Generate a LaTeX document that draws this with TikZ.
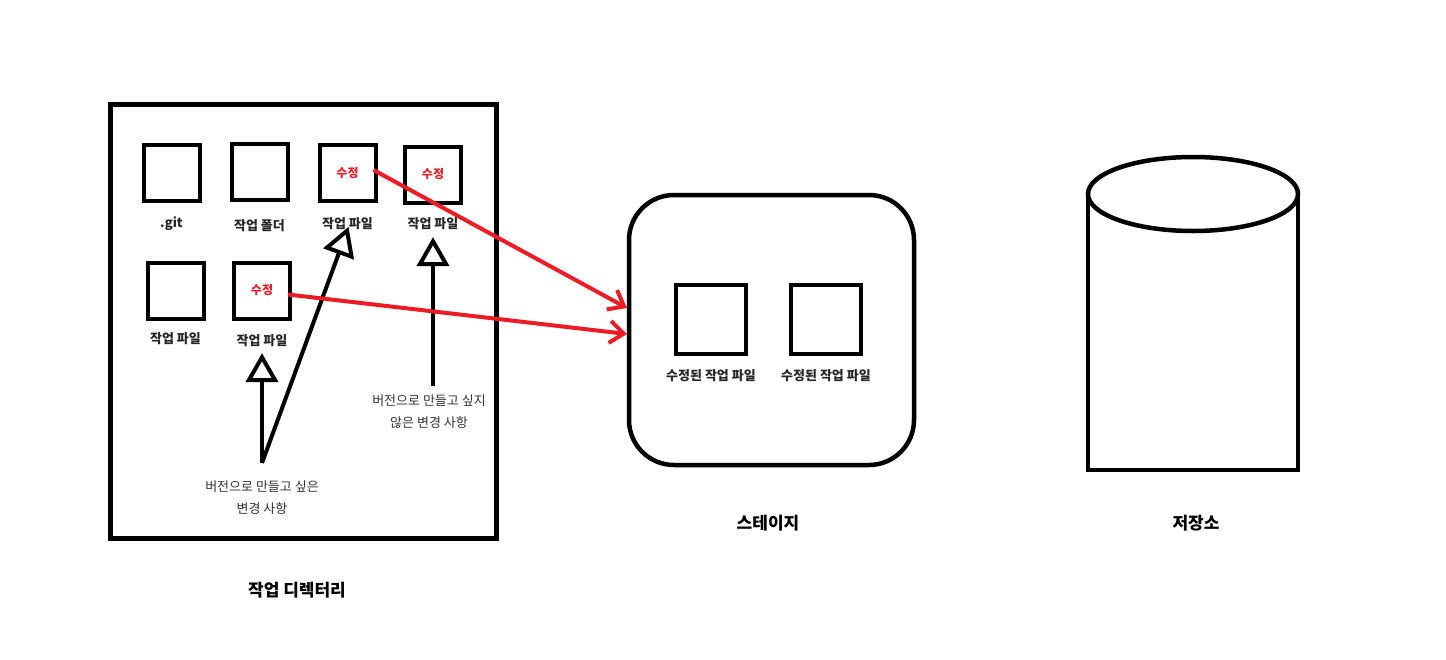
\documentclass[tikz,border=0pt]{standalone}
\usepackage{fontspec}
\newfontfamily\kr{Noto Sans CJK KR}
\usetikzlibrary{arrows.meta,positioning}
\definecolor{paintred}{RGB}{237,28,36}

\begin{document}
\begin{tikzpicture}[
    x=1pt, y=-1pt,
    frame/.style={rectangle, draw, line width=4.5pt, inner sep=0pt},
    filebox/.style={rectangle, draw, line width=4pt, minimum size=56pt, inner sep=0pt,
        font=\kr\fontsize{12}{14}\selectfont\bfseries, text=paintred},
    stagebox/.style={rectangle, draw, line width=4pt, minimum width=70pt, minimum height=69pt},
    caption/.style={font=\kr\fontsize{13}{15}\selectfont\bfseries, text=black!85, inner sep=0pt},
    note/.style={font=\kr\fontsize{13}{22}\selectfont, text=black!80, align=center, inner sep=0pt},
    title/.style={font=\kr\fontsize{17}{20}\selectfont\bfseries, inner sep=0pt},
    pick/.style={-{Triangle[open, length=29pt, width=32pt, line width=4pt]}, line width=4pt},
    stagearrow/.style={-{Straight Barb[length=14pt, width=22pt]}, line width=4pt, draw=paintred}
]
    \useasboundingbox (0,0) rectangle (1446,659);

    % working directory
    \node[frame, minimum width=386pt, minimum height=434pt] (workdir) at (303.5,321.5) {};
    \node[title] (worktitle) at (297,590) {작업 디렉터리};

    \node[filebox] (git) at (171.5,172.5) {};
    \node[filebox] (folder) at (259.5,172) {};
    \node[filebox] (f3) at (347.5,173) {수정};
    \node[filebox] (f4) at (433,174.5) {수정};
    \node[filebox] (f5) at (175.5,290.5) {};
    \node[filebox] (f6) at (262,290.5) {수정};

    \node[caption, below=14pt of git] (lgit) {.git};
    \node[caption, below=17pt of folder] (lfolder) {작업 폴더};
    \node[caption, below=14pt of f3] (l3) {작업 파일};
    \node[caption, below=13pt of f4] (l4) {작업 파일};
    \node[caption, below=12pt of f5] (l5) {작업 파일};
    \node[caption, below=14pt of f6] (l6) {작업 파일};

    \node[note] (want) at (262,498) {버전으로 만들고 싶은\\변경 사항};
    \node[note] (skip) at (429,412) {버전으로 만들고 싶지\\않은 변경 사항};
    \coordinate[above=18pt of want] (root);

    \draw[pick, shorten >=6pt] (root) -- (l6.south);
    \draw[pick, shorten >=-3pt] (root) -- (l3.south);
    \draw[pick, shorten <=9pt, shorten >=7pt] (skip.north -| l4.south) -- (l4.south);

    % stage
    \node[frame, rounded corners=45pt, minimum width=285pt, minimum height=270pt] (stage) at (771.5,330) {};
    \node[stagebox] (s1) at (711,319.5) {};
    \node[stagebox] (s2) at (826,319.5) {};
    \node[caption, below=13pt of s1] (ls1) {수정된 작업 파일};
    \node[caption, below=13pt of s2] (ls2) {수정된 작업 파일};
    \node[title] (stagetitle) at (768,523) {스테이지};

    \coordinate (in1) at (627,308);
    \coordinate (in2) at (627,334);
    \draw[stagearrow] ([xshift=-4pt,yshift=3pt]f3.east) -- (in1);
    \draw[stagearrow] ([xshift=-4pt,yshift=-4pt]f6.east) -- (in2);

    % repository
    \draw[line width=4.5pt] (1193,194) ellipse [x radius=105, y radius=37];
    \draw[line width=4.5pt, line cap=round] (1088,194) -- (1088,470) -- (1298,470) -- (1298,194);
    \node[title] (repotitle) at (1196,523) {저장소};
\end{tikzpicture}
\end{document}
